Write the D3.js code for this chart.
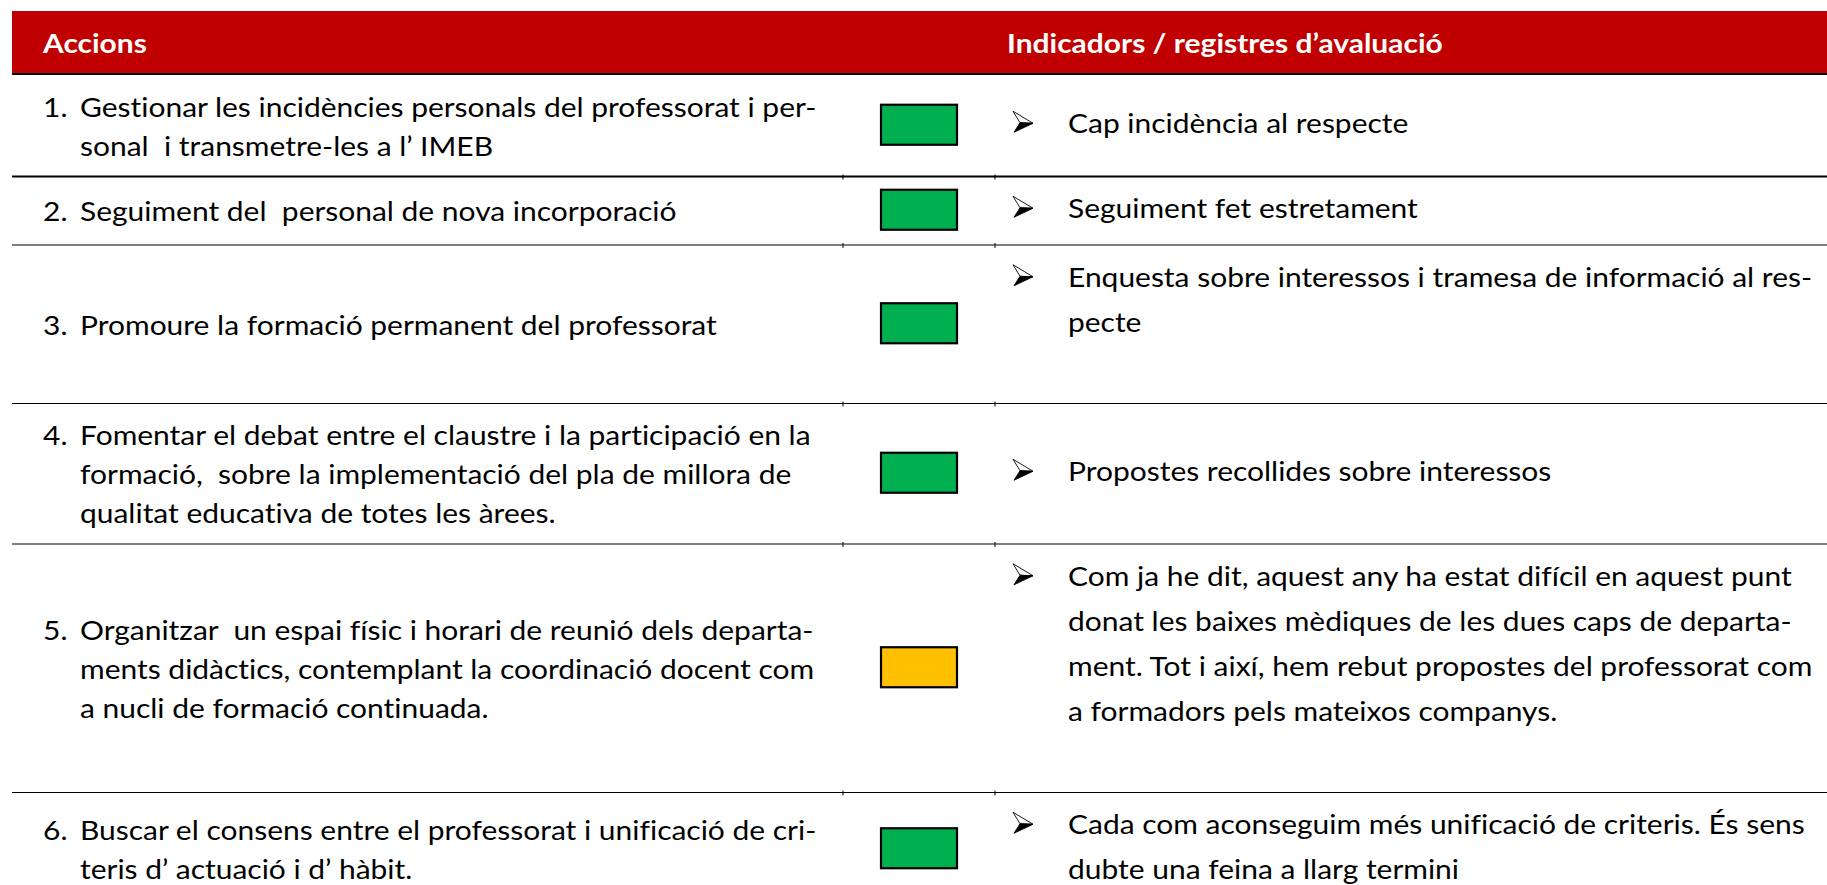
<!DOCTYPE html>
<html>
<head>
<meta charset="utf-8">
<script src="https://cdn.jsdelivr.net/npm/d3@7"></script>
<style>
  html, body { margin: 0; padding: 0; background: #fff; overflow: hidden; }
  svg { display: block; }
  text { white-space: pre; font-variant-ligatures: none; font-feature-settings: "liga" 0, "clig" 0; }
</style>
</head>
<body>
<svg id="chart" width="1827" height="885"></svg>
<script>
// ---------------- data ----------------
const headers = ["Accions", "Indicadors / registres d’avaluació"];

const actions = [
  ["Gestionar les incidències personals del professorat i per-", "sonal  i transmetre-les a l’ IMEB"],
  ["Seguiment del  personal de nova incorporació"],
  ["Promoure la formació permanent del professorat"],
  ["Fomentar el debat entre el claustre i la participació en la", "formació,  sobre la implementació del pla de millora de", "qualitat educativa de totes les àrees."],
  ["Organitzar  un espai físic i horari de reunió dels departa-", "ments didàctics, contemplant la coordinació docent com", "a nucli de formació continuada."],
  ["Buscar el consens entre el professorat i unificació de cri-", "teris d’ actuació i d’ hàbit."]
];

const indicators = [
  ["Cap incidència al respecte"],
  ["Seguiment fet estretament"],
  ["Enquesta sobre interessos i tramesa de informació al res-", "pecte", ""],
  ["Propostes recollides sobre interessos"],
  ["Com ja he dit, aquest any ha estat difícil en aquest punt", "donat les baixes mèdiques de les dues caps de departa-", "ment. Tot i així, hem rebut propostes del professorat com", "a formadors pels mateixos companys.", ""],
  ["Cada com aconseguim més unificació de criteris. És sens", "dubte una feina a llarg termini"]
];

const status = ["done", "done", "done", "done", "partial", "done"];

// ---------------- layout ----------------
const W = 1827, H = 885;
const colEdges = [12, 843, 995, 1827];
const headerTop = 11, headerBottom = 73;
const bodyTop = 75;
const LH_L = 39, LH_R = 45, PAD = 23.5, BASE_OFF = 30;
const FONT = "Lato, 'Open Sans', 'Noto Sans', sans-serif";
const FS = 27;

const statusColor = d3.scaleOrdinal().domain(["done", "partial", "pending"]).range(["#00B050", "#FFC000", "#FF0000"]);

const svg = d3.select("#chart");

// horizontal condensation factor so the font matches the Calibri widths of the original
const probe = svg.append("g").attr("font-family", FONT).attr("font-size", FS);
const t1 = probe.append("text").text(actions[0][0]);
const t2 = probe.append("text").text(indicators[4][2]);
const k = (732 + 749) / (t1.node().getComputedTextLength() + t2.node().getComputedTextLength());
probe.remove();

// row geometry derived from content
const rowHeights = actions.map((a, i) => Math.max(a.length * LH_L, indicators[i].length * LH_R) + PAD);
const rowTops = [bodyTop, ...d3.cumsum(rowHeights).map(v => bodyTop + v)];

const x = d3.scaleOrdinal().domain(["left", "mid", "right"]).range([colEdges[0], colEdges[1], colEdges[2]]);

// header
svg.append("rect")
  .attr("x", colEdges[0]).attr("y", headerTop)
  .attr("width", W - colEdges[0]).attr("height", headerBottom - headerTop)
  .attr("fill", "#C00000");

svg.selectAll("text.header").data(headers).join("text")
  .attr("class", "header")
  .attr("transform", (d, i) => `translate(${(i === 0 ? x("left") : x("right")) + (i === 0 ? 31 : 12)},52.7) scale(${k},1)`)
  .attr("font-family", FONT).attr("font-size", FS).attr("font-weight", 700)
  .attr("fill", "#fff")
  .text(d => d);

svg.append("rect")
  .attr("x", colEdges[0]).attr("y", headerBottom)
  .attr("width", W - colEdges[0]).attr("height", 2)
  .attr("fill", "#000");

// separators
const seps = rowTops.slice(1);
svg.selectAll("line.sep").data(seps).join("line")
  .attr("class", "sep")
  .attr("x1", colEdges[0]).attr("x2", W)
  .attr("y1", d => d).attr("y2", d => d)
  .attr("stroke", "#000")
  .attr("stroke-width", (d, i) => i === 0 ? 2 : 1.2);

// small column ticks on separators
seps.forEach(y => {
  [colEdges[1], colEdges[2]].forEach(cx => {
    svg.append("line").attr("x1", cx).attr("x2", cx).attr("y1", y - 2).attr("y2", y + 3)
      .attr("stroke", "#000").attr("stroke-width", 1);
  });
});

// rows
const rows = svg.selectAll("g.row").data(actions).join("g").attr("class", "row");

rows.each(function(lines, i) {
  const g = d3.select(this);
  const top = rowTops[i], h = rowHeights[i];

  // left cell
  const lBlock = lines.length * LH_L;
  const lTop = top + (h - lBlock) / 2;
  g.append("text")
    .attr("transform", `translate(${x("left") + 31},${lTop + BASE_OFF}) scale(${k},1)`)
    .attr("font-family", FONT).attr("font-size", FS).attr("fill", "#000")
    .text(`${i + 1}.`);
  lines.forEach((ln, j) => {
    g.append("text")
      .attr("transform", `translate(${x("left") + 68},${lTop + BASE_OFF + j * LH_L}) scale(${k},1)`)
      .attr("font-family", FONT).attr("font-size", FS).attr("fill", "#000")
      .text(ln);
  });

  // status square
  const sqW = 78, sqH = 42;
  const midC = (colEdges[1] + colEdges[2]) / 2;
  g.append("rect")
    .attr("x", midC - sqW / 2 + 1).attr("y", top + h / 2 - sqH / 2)
    .attr("width", sqW - 2).attr("height", sqH - 2)
    .attr("fill", statusColor(status[i]))
    .attr("stroke", "#000").attr("stroke-width", 2.2);

  // right cell
  const rl = indicators[i];
  const rBlock = rl.length * LH_R;
  const rTop = top + (h - rBlock) / 2;
  const b0 = rTop + BASE_OFF;
  const ax = x("right") + 18;
  g.append("path")
    .attr("d", `M${ax},${b0 - 22} L${ax + 20},${b0 - 10} L${ax + 7},${b0 - 10.5} Z`)
    .attr("fill", "#fff").attr("stroke", "#000").attr("stroke-width", 0.9).attr("stroke-linejoin", "miter");
  g.append("path")
    .attr("d", `M${ax + 7},${b0 - 10.5} L${ax + 20},${b0 - 10} L${ax + 1},${b0 - 1} Z`)
    .attr("fill", "#000").attr("stroke", "#000").attr("stroke-width", 0.9);
  rl.forEach((ln, j) => {
    g.append("text")
      .attr("transform", `translate(${x("right") + 73},${b0 + j * LH_R}) scale(${k},1)`)
      .attr("font-family", FONT).attr("font-size", FS).attr("fill", "#000")
      .text(ln);
  });
});
</script>
</body>
</html>
